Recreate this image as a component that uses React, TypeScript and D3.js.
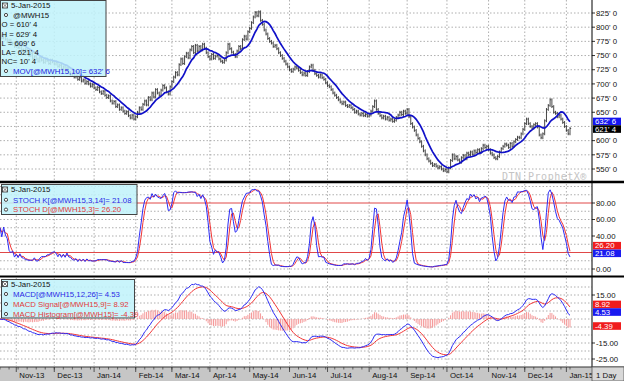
import React from 'react';
import * as d3 from 'd3';

// ---------- data ----------
const closes: number[] = [
  785, 781, 786, 779, 774, 777, 770, 772, 766, 769,
  764, 768, 760, 757, 761, 753, 750, 754, 745, 748,
  744, 740, 746, 742, 738, 744, 741, 736, 742, 739,
  735, 738, 731, 733, 727, 730, 724, 728, 720, 716,
  719, 712, 714, 708, 711, 705, 707, 701, 704, 700,
  696, 699, 693, 690, 694, 686, 683, 687, 680, 676,
  679, 670, 666, 669, 660, 663, 655, 658, 652, 648,
  651, 644, 640, 645, 638, 642, 650, 658, 655, 664,
  670, 663, 676, 672, 684, 677, 690, 684, 680, 689,
  697, 693, 686, 682, 695, 704, 712, 720, 716, 734,
  744, 736, 748, 754, 746, 760, 766, 755, 768, 758,
  766, 760, 770, 763, 755, 748, 744, 752, 745, 749,
  750, 744, 740, 738, 742, 755, 770, 762, 756, 752,
  748, 758, 766, 762, 778, 784, 779, 792, 798, 808,
  818, 826, 820, 827, 812, 805, 795, 788, 780, 775,
  772, 766, 768, 762, 755, 750, 745, 740, 735, 730,
  725, 722, 726, 730, 728, 724, 720, 716, 719, 715,
  722, 730, 733, 724, 718, 715, 712, 716, 711, 708,
  702, 697, 695, 690, 684, 680, 676, 672, 668, 665,
  668, 662, 660, 662, 658, 655, 650, 652, 647, 645,
  648, 644, 646, 643, 645, 652, 660, 670, 655, 648,
  644, 640, 643, 638, 641, 636, 638, 634, 636, 641,
  645, 650, 646, 652, 648, 655, 642, 630, 624, 618,
  610, 604, 598, 590, 582, 575, 568, 564, 560, 556,
  558, 555, 552, 554, 550, 547, 549, 545, 552, 565,
  575, 568, 572, 566, 562, 570, 574, 568, 578, 575,
  580, 576, 582, 579, 584, 580, 586, 592, 588, 590,
  584, 578, 575, 570, 568, 572, 580, 586, 590, 594,
  592, 588, 595, 590, 598, 602, 606, 605, 612, 620,
  630, 638, 630, 625, 622, 628, 630, 624, 610, 605,
  612, 635, 655, 662, 672, 660, 650, 648, 642, 645,
  638, 632, 625, 618, 612, 621.5,
];
const firstDay = new Date(2013, 9, 21);
const lastDay = new Date(2015, 0, 5);

const priceTicks = [550, 575, 600, 625, 650, 675, 700, 725, 750, 775, 800, 825];
const stochTicks = [0, 20, 40, 60, 80];
const stochLevels = [20, 80];
const stochGrid = [0, 10, 30, 40, 50, 60, 70, 90, 100];
const macdTicks = [-25, -15, -5, 5, 15];
const macdGrid = [-25, -20, -15, -10, -5, 0, 5, 10, 15, 20];

const legendDate = '5-Jan-2015';
const symbolLabel = '@MWH15';
const ohlcLabels = ["O = 610' 4", "H = 629' 4", "L = 609' 6", "LA= 621' 4", "NC= 10' 4"];
const maLabel = "MOV[@MWH15,10]= 632' 6";
const stochKLabel = 'STOCH K[@MWH15,3,14]= 21.08';
const stochDLabel = 'STOCH D[@MWH15,3]= 26.20';
const macdLabel = 'MACD[@MWH15,12,26]= 4.53';
const signalLabel = 'MACD Signal[@MWH15,9]= 8.92';
const histLabel = 'MACD Histogram[@MWH15]= -4.39';

type Marker = { value: number; text: string; fill: string };
const priceMarkers: Marker[] = [
  { value: 632.75, text: "632' 6", fill: '#1414f0' },
  { value: 621.5, text: "621' 4", fill: '#000000' },
];
const stochMarkers: Marker[] = [
  { value: 26.2, text: '26.20', fill: '#f01c1c' },
  { value: 21.08, text: '21.08', fill: '#1a1af0' },
];
const macdMarkers: Marker[] = [
  { value: 8.92, text: '8.92', fill: '#f01c1c' },
  { value: 4.53, text: '4.53', fill: '#1a1af0' },
  { value: -4.39, text: '-4.39', fill: '#f01c1c' },
];

// ---------- styles ----------
const FONT = "'Liberation Sans', Arial, sans-serif";
const FS = 7.8;
const W = 624;
const H = 381;
const AXIS_X = 592;
const WICK = 2.5;
const BLUE = '#2b2bf5';
const RED = '#f23535';
const GRID = '#9a9a9a';
const BOX_H = 7.6;

function sma(arr: number[], len: number): number[] {
  return arr.map((_, i) => {
    if (i < len - 1) return NaN;
    let s = 0;
    for (let k = i - len + 1; k <= i; k++) s += arr[k];
    return s / len;
  });
}
function ema(arr: number[], len: number): number[] {
  const a = 2 / (len + 1);
  const out: number[] = [];
  arr.forEach((v, i) => out.push(i === 0 ? v : a * v + (1 - a) * out[i - 1]));
  return out;
}
// spread marker boxes so that they do not overlap (sorted top to bottom)
function placeMarkers(ms: Marker[], y: d3.ScaleLinear<number, number>) {
  const items = ms.map((m) => ({ m, y: y(m.value) })).sort((a, b) => a.y - b.y);
  for (let it = 0; it < 10; it++) {
    for (let k = 1; k < items.length; k++) {
      const gap = items[k].y - items[k - 1].y;
      if (gap < BOX_H) {
        const push = (BOX_H - gap) / 2;
        items[k].y += push;
        items[k - 1].y -= push;
      }
    }
  }
  return items;
}

export default function App() {
  const dates = d3.timeDay
    .range(firstDay, d3.timeDay.offset(lastDay, 1))
    .filter((d) => d.getDay() !== 0 && d.getDay() !== 6);
  const n = Math.min(dates.length, closes.length);
  const c = closes.slice(0, n);
  const opens = c.map((v, i) => (i === 0 ? v : c[i - 1]));
  const highs = c.map((v, i) => Math.max(v, opens[i]) + WICK);
  const lows = c.map((v, i) => Math.min(v, opens[i]) - WICK);

  // indicators
  const ma10 = sma(c, 10);
  const rawK = c.map((v, i) => {
    const s = Math.max(0, i - 13);
    const hh = d3.max(highs.slice(s, i + 1)) as number;
    const ll = d3.min(lows.slice(s, i + 1)) as number;
    return hh === ll ? 50 : ((v - ll) / (hh - ll)) * 100;
  });
  const kLine = rawK.map((_, i) => d3.mean(rawK.slice(Math.max(0, i - 2), i + 1)) as number);
  const dLine = kLine.map((_, i) => d3.mean(kLine.slice(Math.max(0, i - 2), i + 1)) as number);
  const e12 = ema(c, 12);
  const e26 = ema(c, 26);
  const macd = c.map((_, i) => e12[i] - e26[i]);
  const signal = ema(macd, 9);
  const hist = macd.map((m, i) => m - signal[i]);

  // scales
  const x = d3.scaleLinear().domain([0, closes.length - 1]).range([0, 570]);
  const yP = d3.scaleLinear().domain([550, 825]).range([169, 13]);
  const yS = d3.scaleLinear().domain([0, 80]).range([269, 203]);
  const yM = d3.scaleLinear().domain([-25, 15]).range([359, 295]);

  const monthStarts = dates
    .map((d, i) => ({ d, i }))
    .filter(({ d, i }) => i > 0 && d.getMonth() !== dates[i - 1].getMonth());
  const mondays = dates.map((d, i) => ({ d, i })).filter(({ d }) => d.getDay() === 1);
  const fmt = d3.timeFormat('%b-%y');

  const lineOf = (arr: number[], y: d3.ScaleLinear<number, number>) =>
    d3
      .line<number>()
      .defined((v) => !isNaN(v))
      .x((_, i) => x(i))
      .y((v) => y(v))(arr) || '';

  const panels = [
    { id: 'cp', top: 0, bottom: 181 },
    { id: 'cs', top: 184, bottom: 275 },
    { id: 'cm', top: 278, bottom: 366 },
  ];

  const vGrid = (top: number, bottom: number) =>
    monthStarts.map(({ i }) => (
      <line key={'vg' + top + i} x1={x(i)} x2={x(i)} y1={top} y2={bottom} stroke={GRID} strokeWidth={0.8} strokeDasharray="1.5,2" />
    ));
  const hGrid = (ys: number[], key: string) =>
    ys.map((yy, k) => (
      <line key={key + k} x1={0} x2={AXIS_X} y1={yy} y2={yy} stroke={GRID} strokeWidth={0.8} strokeDasharray="1.5,2" />
    ));

  const markerBlock = (ms: Marker[], y: d3.ScaleLinear<number, number>, key: string) =>
    placeMarkers(ms, y).map((it, k) => (
      <g key={key + k}>
        <rect x={593} y={it.y - BOX_H / 2} width={28} height={BOX_H} fill={it.m.fill} />
        <text x={595} y={it.y} dy="0.35em" fontSize={FS} fill="#fff" fontFamily={FONT}>
          {it.m.text}
        </text>
      </g>
    ));
  const axisBlock = (ticks: number[], y: d3.ScaleLinear<number, number>, ms: Marker[], f: (v: number) => string, key: string) => {
    const placed = placeMarkers(ms, y);
    return ticks
      .filter((v) => placed.every((p) => Math.abs(p.y - y(v)) > 6.5))
      .map((v) => (
        <g key={key + v}>
          <line x1={AXIS_X} x2={AXIS_X + 3} y1={y(v)} y2={y(v)} stroke="#000" strokeWidth={0.8} />
          <text x={AXIS_X + 4} y={y(v)} dy="0.35em" fontSize={FS} fill="#111" fontFamily={FONT}>
            {f(v)}
          </text>
        </g>
      ));
  };

  const dot = (cx: number, cy: number) => (
    <circle cx={cx} cy={cy} r={1.6} fill="#fff" stroke="#333" strokeWidth={0.9} />
  );
  const calIcon = (cx: number, cy: number) => (
    <g>
      <rect x={cx - 2.5} y={cy - 2.5} width={5} height={5} fill="#fff" stroke="#333" strokeWidth={0.8} />
      <line x1={cx - 2.5} y1={cy - 2.5} x2={cx + 2.5} y2={cy + 2.5} stroke="#333" strokeWidth={0.6} />
      <line x1={cx + 2.5} y1={cy - 2.5} x2={cx - 2.5} y2={cy + 2.5} stroke="#333" strokeWidth={0.6} />
    </g>
  );
  const txt = (s: string, tx: number, ty: number, fill: string) => (
    <text x={tx} y={ty} dy="0.35em" fontSize={FS} fill={fill} fontFamily={FONT}>
      {s}
    </text>
  );

  return (
    <svg width={W} height={H} style={{ position: 'absolute', left: 0, top: 0, background: '#fff' }}>
      <defs>
        {panels.map((p) => (
          <clipPath id={p.id} key={p.id}>
            <rect x={0} y={p.top} width={AXIS_X} height={p.bottom - p.top} />
          </clipPath>
        ))}
      </defs>
      <rect x={0} y={0} width={W} height={H} fill="#fff" />

      {/* ---------- price panel ---------- */}
      {hGrid(priceTicks.map((v) => yP(v)), 'pg')}
      {vGrid(0, 181)}
      <text x={502} y={180} fontSize={10} fill="#c4c4c4" fontFamily="'DejaVu Sans Mono', monospace" letterSpacing={0.5}>
        DTN ProphetX®
      </text>
      <g clipPath="url(#cp)">
        {c.map((v, i) => (
          <g key={'b' + i}>
            <line x1={x(i)} x2={x(i)} y1={yP(highs[i])} y2={yP(lows[i])} stroke="#333" strokeWidth={0.9} />
            <line x1={x(i)} x2={x(i) + 1.2} y1={yP(v)} y2={yP(v)} stroke="#333" strokeWidth={0.8} />
          </g>
        ))}
        <path d={lineOf(ma10, yP)} fill="none" stroke="#1010c8" strokeWidth={1.7} />
      </g>

      {/* ---------- stochastic panel ---------- */}
      {hGrid(stochGrid.map((v) => yS(v)), 'sg')}
      {vGrid(184, 275)}
      <g clipPath="url(#cs)">
        {stochLevels.map((v) => (
          <line key={'sl' + v} x1={0} x2={AXIS_X} y1={yS(v)} y2={yS(v)} stroke="#e04848" strokeWidth={1} />
        ))}
        <path d={lineOf(dLine, yS)} fill="none" stroke={RED} strokeWidth={1} />
        <path d={lineOf(kLine, yS)} fill="none" stroke={BLUE} strokeWidth={1} />
      </g>

      {/* ---------- MACD panel ---------- */}
      {hGrid(macdGrid.map((v) => yM(v)), 'mg')}
      {vGrid(278, 366)}
      <g clipPath="url(#cm)">
        {hist.map((h, i) => (
          <line key={'h' + i} x1={x(i)} x2={x(i)} y1={yM(0)} y2={yM(h)} stroke="#f59a9a" strokeWidth={1} />
        ))}
        <path d={lineOf(signal, yM)} fill="none" stroke={RED} strokeWidth={1} />
        <path d={lineOf(macd, yM)} fill="none" stroke={BLUE} strokeWidth={1} />
      </g>

      {/* ---------- separators ---------- */}
      <line x1={0} x2={W} y1={182} y2={182} stroke="#000" strokeWidth={2.5} />
      <line x1={0} x2={W} y1={276.5} y2={276.5} stroke="#000" strokeWidth={2} />
      <line x1={AXIS_X} x2={AXIS_X} y1={0} y2={381} stroke="#000" strokeWidth={1} />

      {/* ---------- right axes ---------- */}
      {axisBlock(priceTicks, yP, priceMarkers, (v) => `${v}' 0`, 'pt')}
      {markerBlock(priceMarkers, yP, 'pm')}
      {axisBlock(stochTicks, yS, stochMarkers, (v) => v.toFixed(2), 'st')}
      {markerBlock(stochMarkers, yS, 'sm')}
      {axisBlock(macdTicks, yM, macdMarkers, (v) => v.toFixed(2), 'mt')}
      {markerBlock(macdMarkers, yM, 'mm')}

      {/* ---------- x axis ---------- */}
      <rect x={0} y={367} width={W} height={14} fill="#c6c6c6" />
      <line x1={0} x2={W} y1={367} y2={367} stroke="#333" strokeWidth={1} />
      {mondays.map(({ i }) => (
        <line key={'mo' + i} x1={x(i)} x2={x(i)} y1={367} y2={369.5} stroke="#333" strokeWidth={0.7} />
      ))}
      {monthStarts.map(({ d, i }) => (
        <g key={'ms' + i}>
          <line x1={x(i)} x2={x(i)} y1={367} y2={372} stroke="#333" strokeWidth={0.8} />
          <text x={x(i) + 3} y={377.5} fontSize={FS} fill="#111" fontFamily={FONT}>
            {fmt(d)}
          </text>
        </g>
      ))}
      <rect x={AXIS_X} y={367} width={W - AXIS_X} height={14} fill="#d8d8d8" stroke="#555" strokeWidth={0.8} />
      <text x={596} y={377.5} fontSize={FS} fill="#111" fontFamily={FONT}>
        1  Day
      </text>

      {/* ---------- legends ---------- */}
      <g>
        <rect x={0.5} y={0.5} width={105.5} height={76} fill="rgba(192,242,250,0.86)" stroke="#444" strokeWidth={1} />
        {calIcon(5, 5.5)}
        {txt(legendDate, 11, 5.5, '#111')}
        {dot(6, 15)}
        {txt(symbolLabel, 13, 15, '#111')}
        {ohlcLabels.map((s, k) => (
          <g key={'ol' + k}>{txt(s, 1.5, 24.5 + k * 9.3, '#111')}</g>
        ))}
        {dot(6, 71)}
        {txt(maLabel, 13, 71, '#2020e0')}
      </g>
      <g>
        <rect x={1.5} y={184.5} width={135.5} height={30} fill="rgba(192,242,250,0.86)" stroke="#444" strokeWidth={1} />
        {calIcon(5, 189.5)}
        {txt(legendDate, 11, 189.5, '#111')}
        {dot(6, 199.8)}
        {txt(stochKLabel, 13, 199.8, '#2a2ae6')}
        {dot(6, 209.6)}
        {txt(stochDLabel, 13, 209.6, '#e23a3a')}
      </g>
      <g>
        <rect x={1.5} y={279.5} width={133} height={38.5} fill="rgba(192,242,250,0.86)" stroke="#444" strokeWidth={1} />
        {calIcon(5, 284)}
        {txt(legendDate, 11, 284, '#111')}
        {dot(6, 294)}
        {txt(macdLabel, 13, 294, '#2a2ae6')}
        {dot(6, 304)}
        {txt(signalLabel, 13, 304, '#e23a3a')}
        {dot(6, 314)}
        {txt(histLabel, 13, 314, '#e23a3a')}
      </g>
    </svg>
  );
}
